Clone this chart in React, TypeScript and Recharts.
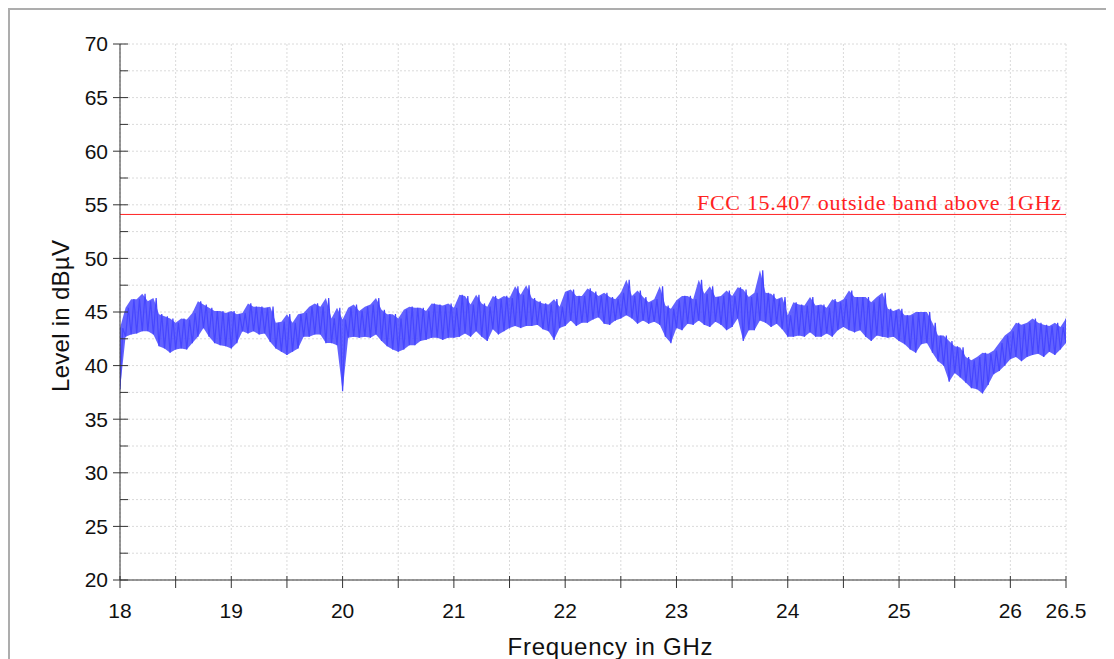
import React from 'react';
import { ComposedChart, Line, Area, XAxis, YAxis, CartesianGrid, ReferenceLine } from 'recharts';

// sweep grid: one hi/lo pair per 0.05 GHz, 18.00 .. 26.50
const F_START = 18;
const F_STEP = 0.05;

const hiLevels = [
  43.5, 45.4, 46.2, 46.2, 46.7, 46.0, 46.3, 44.8, 44.6, 44.4,
  44.0, 44.4, 44.3, 44.9, 46.0, 45.7, 45.4, 45.1, 45.1, 44.9,
  45.1, 44.8, 44.9, 45.8, 45.5, 45.5, 45.4, 45.5, 44.0, 44.1,
  44.8, 44.0, 44.8, 44.9, 45.5, 45.8, 45.5, 46.3, 44.4, 45.4,
  44.3, 45.4, 45.7, 45.1, 45.5, 45.7, 46.3, 45.2, 44.8, 44.8,
  44.4, 45.2, 45.5, 45.4, 45.4, 45.1, 45.8, 45.7, 45.6, 45.8,
  45.4, 46.6, 46.5, 45.7, 46.6, 45.8, 45.5, 46.5, 46.2, 46.5,
  46.3, 47.4, 46.6, 47.5, 46.3, 46.0, 45.8, 45.7, 46.2, 45.5,
  46.9, 47.1, 46.5, 46.5, 47.2, 46.9, 46.5, 46.8, 46.4, 46.2,
  46.8, 48.0, 46.5, 47.0, 46.4, 45.9, 46.2, 47.4, 45.6, 45.3,
  46.1, 46.5, 46.5, 46.2, 48.0, 46.7, 47.4, 46.4, 46.5, 47.0,
  46.5, 47.3, 47.1, 46.4, 46.8, 48.9, 46.8, 46.7, 46.2, 46.4,
  44.7, 45.9, 45.7, 45.6, 46.4, 45.6, 45.7, 45.4, 46.2, 45.9,
  46.2, 47.0, 46.4, 46.4, 46.4, 45.9, 46.4, 46.8, 45.3, 45.1,
  45.3, 44.7, 44.7, 45.0, 45.0, 45.0, 44.0, 42.8, 42.8, 42.3,
  41.8, 41.7, 40.8, 40.5, 40.8, 41.2, 41.1, 41.4, 42.1, 42.8,
  43.2, 44.0, 43.8, 44.0, 44.4, 44.0, 43.8, 43.7, 44.0, 43.6,
  44.4,
];

const loLevels = [
  37.8, 42.7, 42.9, 43.0, 43.2, 43.2, 42.9, 41.8, 41.6, 41.2,
  41.5, 41.6, 41.5, 42.1, 42.7, 43.5, 42.7, 42.1, 41.9, 41.8,
  41.6, 42.1, 43.2, 43.0, 43.2, 42.9, 43.0, 42.2, 41.6, 41.3,
  41.0, 41.3, 41.6, 42.7, 42.7, 42.9, 42.9, 42.1, 42.1, 41.9,
  37.6, 42.6, 42.7, 42.6, 42.7, 42.6, 42.9, 42.3, 41.8, 41.5,
  41.3, 41.5, 41.9, 41.9, 42.3, 42.4, 42.6, 42.6, 42.4, 42.6,
  42.6, 42.7, 43.0, 42.7, 43.2, 42.7, 42.3, 43.4, 42.9, 43.2,
  43.5, 43.7, 43.5, 43.7, 43.7, 43.8, 43.4, 43.2, 42.4, 43.5,
  43.7, 44.2, 43.7, 44.0, 44.0, 44.3, 44.5, 43.9, 43.8, 44.2,
  44.4, 44.7, 44.4, 43.9, 44.2, 43.9, 44.1, 43.8, 42.7, 42.1,
  43.5, 43.3, 43.9, 43.8, 44.2, 43.8, 43.6, 44.1, 43.8, 43.3,
  43.6, 44.4, 42.3, 43.3, 43.3, 44.2, 44.0, 43.6, 43.9, 43.4,
  42.7, 42.7, 42.8, 42.7, 43.1, 42.7, 42.7, 43.0, 42.7, 43.3,
  43.6, 43.3, 43.1, 43.3, 42.7, 42.3, 42.8, 42.7, 42.6, 42.7,
  42.3, 42.0, 41.5, 41.2, 42.0, 42.1, 41.2, 40.4, 40.0, 38.5,
  39.3, 38.9, 38.4, 37.9, 37.8, 37.4, 38.2, 39.2, 39.5, 40.0,
  40.6, 40.8, 40.4, 40.8, 41.0, 41.1, 40.8, 41.3, 41.0, 41.5,
  42.1,
];

const limitLevel = 54.1;
const limitName = 'FCC 15.407 outside band above 1GHz';

const xTicks = [18, 18.5, 19, 19.5, 20, 20.5, 21, 21.5, 22, 22.5, 23, 23.5, 24, 24.5, 25, 25.5, 26, 26.5];
const xLabels = [18, 19, 20, 21, 22, 23, 24, 25, 26, 26.5];
const yTicks = [20, 22.5, 25, 27.5, 30, 32.5, 35, 37.5, 40, 42.5, 45, 47.5, 50, 52.5, 55, 57.5, 60, 62.5, 65, 67.5, 70];
const yLabels = [20, 25, 30, 35, 40, 45, 50, 55, 60, 65, 70];

// zig-zag trace (lo, hi alternating) and the hi/lo band under it
const trace: { f: number; v: number }[] = [];
const band: { f: number; range: [number, number] }[] = [];
loLevels.forEach((lo, i) => {
  const f = F_START + i * F_STEP;
  trace.push({ f, v: lo });
  trace.push({ f: Math.min(f + F_STEP / 2, 26.5), v: hiLevels[i] });
  band.push({ f, range: [lo, hiLevels[i]] });
});

const SANS = '"Liberation Sans", Arial, sans-serif';
const AXIS = '#333';
const TRACE = '#4646ff';

const XTick = (props: any) => {
  const { x, y, payload } = props;
  const v = payload.value;
  return (
    <g>
      <line x1={x} x2={x} y1={y - 4} y2={y + 8} stroke={AXIS} />
      {xLabels.includes(v) && (
        <text x={x} y={y + 38} textAnchor="middle" fontSize={21} fill="#111" fontFamily={SANS}>
          {v}
        </text>
      )}
    </g>
  );
};

const YTick = (props: any) => {
  const { x, y, payload } = props;
  const v = payload.value;
  const major = yLabels.includes(v);
  return (
    <g>
      <line x1={major ? x - 7 : x} x2={x + 8} y1={y} y2={y} stroke={AXIS} />
      {major && (
        <text x={x - 12} y={y} dy="0.35em" textAnchor="end" fontSize={21} fill="#111" fontFamily={SANS}>
          {v}
        </text>
      )}
    </g>
  );
};

const LimitLabel = (props: any) => {
  const { viewBox } = props;
  return (
    <text
      x={viewBox.x + viewBox.width - 5}
      y={viewBox.y - 4}
      textAnchor="end"
      fill="#ff2222"
      fontSize={22}
      fontFamily='"Liberation Serif", "DejaVu Serif", serif'
      textLength={364}
      lengthAdjust="spacing"
    >
      {limitName}
    </text>
  );
};

const XTitle = (props: any) => {
  const { viewBox } = props;
  return (
    <text
      x={viewBox.x + viewBox.width / 2 + 17}
      y={647}
      textAnchor="middle"
      fontSize={24}
      fill="#111"
      fontFamily={SANS}
      textLength={205}
      lengthAdjust="spacing"
    >
      Frequency  in GHz
    </text>
  );
};

const YTitle = (props: any) => {
  const { viewBox } = props;
  const cx = 61;
  const cy = viewBox.y + viewBox.height / 2 + 4;
  return (
    <text
      x={cx}
      y={cy}
      transform={`rotate(-90, ${cx}, ${cy})`}
      textAnchor="middle"
      fontSize={24}
      fill="#111"
      fontFamily={SANS}
      textLength={152}
      lengthAdjust="spacing"
    >
      Level in dBµV
    </text>
  );
};

export default function App() {
  return (
    <div style={{ position: 'relative', width: 1100, height: 651, overflow: 'hidden', background: '#fff' }}>
      <div
        style={{
          position: 'absolute',
          left: 0,
          top: 0,
          width: 1100,
          height: 700,
          border: '2px solid #adadad',
          boxSizing: 'border-box',
        }}
      />
      <div style={{ position: 'absolute', left: 0, top: 0 }}>
        <ComposedChart width={1100} height={651} margin={{ top: 36, right: 42, bottom: 49, left: 52 }}>
          <CartesianGrid stroke="#dadada" strokeDasharray="2 2" />
          <XAxis
            type="number"
            dataKey="f"
            domain={[18, 26.5]}
            ticks={xTicks}
            interval={0}
            height={30}
            tickSize={0}
            tickMargin={0}
            tickLine={false}
            axisLine={{ stroke: AXIS }}
            tick={<XTick />}
            label={<XTitle />}
            allowDataOverflow
          />
          <YAxis
            type="number"
            domain={[20, 70]}
            ticks={yTicks}
            interval={0}
            width={60}
            tickSize={0}
            tickMargin={0}
            tickLine={false}
            axisLine={{ stroke: AXIS }}
            tick={<YTick />}
            label={<YTitle />}
            allowDataOverflow
          />
          <ReferenceLine y={limitLevel} stroke="#ff2222" strokeWidth={1} label={<LimitLabel />} />
          <Area
            data={band}
            type="linear"
            dataKey="range"
            stroke="none"
            fill={TRACE}
            fillOpacity={0.85}
            dot={false}
            activeDot={false}
            isAnimationActive={false}
          />
          <Line
            data={trace}
            type="linear"
            dataKey="v"
            stroke={TRACE}
            strokeWidth={1.2}
            dot={false}
            activeDot={false}
            isAnimationActive={false}
          />
        </ComposedChart>
      </div>
    </div>
  );
}
